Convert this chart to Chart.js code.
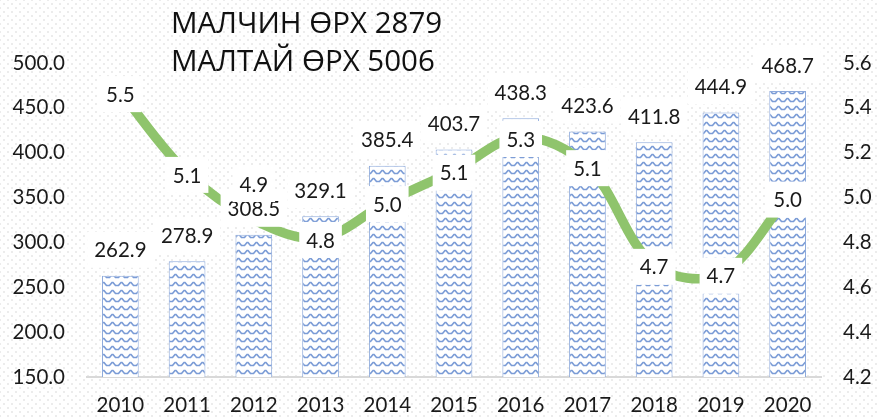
<!DOCTYPE html>
<html>
<head>
<meta charset="utf-8">
<script src="https://cdn.jsdelivr.net/npm/chart.js@4.4.1/dist/chart.umd.min.js"></script>
<style>
  body{ margin:0; background:#fff; }
  #wrap{
    position:relative; width:879px; height:417px;
    background-color:#fff;
    background-image:radial-gradient(#ececec 0.9px, transparent 1px), radial-gradient(#ececec 0.9px, transparent 1px);
    background-size:8px 8px;
    background-position:0 0, 4px 4px;
  }
  #title{
    position:absolute; left:171px; top:3px;
    font-family:"Open Sans", "Noto Sans", sans-serif;
    font-size:29.5px; line-height:38px; color:#111;
    white-space:nowrap;
  }
</style>
</head>
<body>
<div id="wrap">
  <canvas id="chart"></canvas>
  <div id="title">МАЛЧИН ӨРХ 2879<br>МАЛТАЙ ӨРХ 5006</div>
</div>
<script>
/* ================= DATA ================= */
const years = ["2010","2011","2012","2013","2014","2015","2016","2017","2018","2019","2020"];
const households = [262.9, 278.9, 308.5, 329.1, 385.4, 403.7, 438.3, 423.6, 411.8, 444.9, 468.7];
const ratio = [5.47, 5.11, 4.90, 4.82, 4.98, 5.12, 5.27, 5.14, 4.70, 4.66, 5.00];
const leftTicks = [150, 500, 50];    // min, max, step
const rightTicks = [4.2, 5.6, 0.2];  // min, max, step

const FONT = "Lato, 'Noto Sans', sans-serif";
const TXT = "#1a1a1a";

// 2012 label in the original was moved up above the point
const lineLabelShift = { 2: -38 };

/* ================= WAVE PATTERN ================= */
function wavePattern(){
    const c = document.createElement("canvas");
    c.width = 9; c.height = 8;
    const g = c.getContext("2d");
    g.fillStyle = "#fff";
    g.fillRect(0, 0, 9, 8);
    g.strokeStyle = "#7b9cd6";
    g.lineWidth = 1.7;
    g.beginPath();
    g.moveTo(0, 5.5);
    g.lineTo(1.5, 5.5);
    g.lineTo(4, 2.5);
    g.lineTo(5, 2.5);
    g.lineTo(7.5, 5.5);
    g.lineTo(9, 5.5);
    g.stroke();
    return g.createPattern(c, "repeat");
}

/* ================= LABELS ================= */
function drawBox(ctx, text, x, y){
    ctx.font = "20.5px " + FONT;
    const w = ctx.measureText(text).width + 14;
    const h = 36;
    ctx.fillStyle = "#fff";
    ctx.fillRect(x - w / 2, y - h / 2, w, h);
    ctx.fillStyle = TXT;
    ctx.textAlign = "center";
    ctx.textBaseline = "middle";
    ctx.fillText(text, x, y + 1);
}

const valueLabels = {
    id: "valueLabels",
    afterDatasetsDraw(chart){
        const ctx = chart.ctx;
        ctx.save();
        chart.getDatasetMeta(1).data.forEach((bar, i) => {
            drawBox(ctx, households[i].toFixed(1), bar.x, bar.y - 26);
        });
        chart.getDatasetMeta(0).data.forEach((pt, i) => {
            const dy = lineLabelShift[i] || 0;
            drawBox(ctx, ratio[i].toFixed(1), pt.x, pt.y + 2 + dy);
        });
        ctx.restore();
    }
};

/* ================= CHART ================= */
const ctx = document.getElementById("chart");

new Chart(ctx, {
    type: "bar",
    data: {
        labels: years,
        datasets: [{
            type: "line",
            data: ratio,
            yAxisID: "y1",
            borderColor: "#8fc46c",
            borderWidth: 9.5,
            tension: 0.35,
            pointRadius: 0,
            order: 0
        }, {
            type: "bar",
            data: households,
            yAxisID: "y",
            backgroundColor: wavePattern(),
            borderColor: "#8eaadb",
            borderWidth: 1,
            categoryPercentage: 1,
            barPercentage: 0.55,
            order: 1
        }]
    },
    options: {
        responsive: true,
        maintainAspectRatio: false,
        animation: false,
        layout: { padding: { top: 63 } },
        plugins: { legend: { display: false }, tooltip: { enabled: false } },
        scales: {
            x: {
                grid: { drawOnChartArea: false, drawTicks: false },
                border: { color: "#d9d9d9", width: 2 },
                ticks: { color: TXT, font: { family: FONT, size: 20.5 }, padding: 16 },
                afterFit(s){ s.height = 40; }
            },
            y: {
                position: "left",
                min: leftTicks[0], max: leftTicks[1],
                grid: { display: false, drawTicks: false },
                border: { display: false },
                ticks: {
                    stepSize: leftTicks[2],
                    color: TXT, font: { family: FONT, size: 20.5 }, padding: 22,
                    callback: v => v.toFixed(1)
                },
                afterFit(s){ s.width = 87; }
            },
            y1: {
                position: "right",
                min: rightTicks[0], max: rightTicks[1],
                grid: { display: false, drawTicks: false },
                border: { display: false },
                ticks: {
                    stepSize: rightTicks[2],
                    color: TXT, font: { family: FONT, size: 20.5 }, padding: 22,
                    callback: v => v.toFixed(1)
                },
                afterFit(s){ s.width = 58; }
            }
        }
    },
    plugins: [valueLabels]
});
</script>
</body>
</html>
